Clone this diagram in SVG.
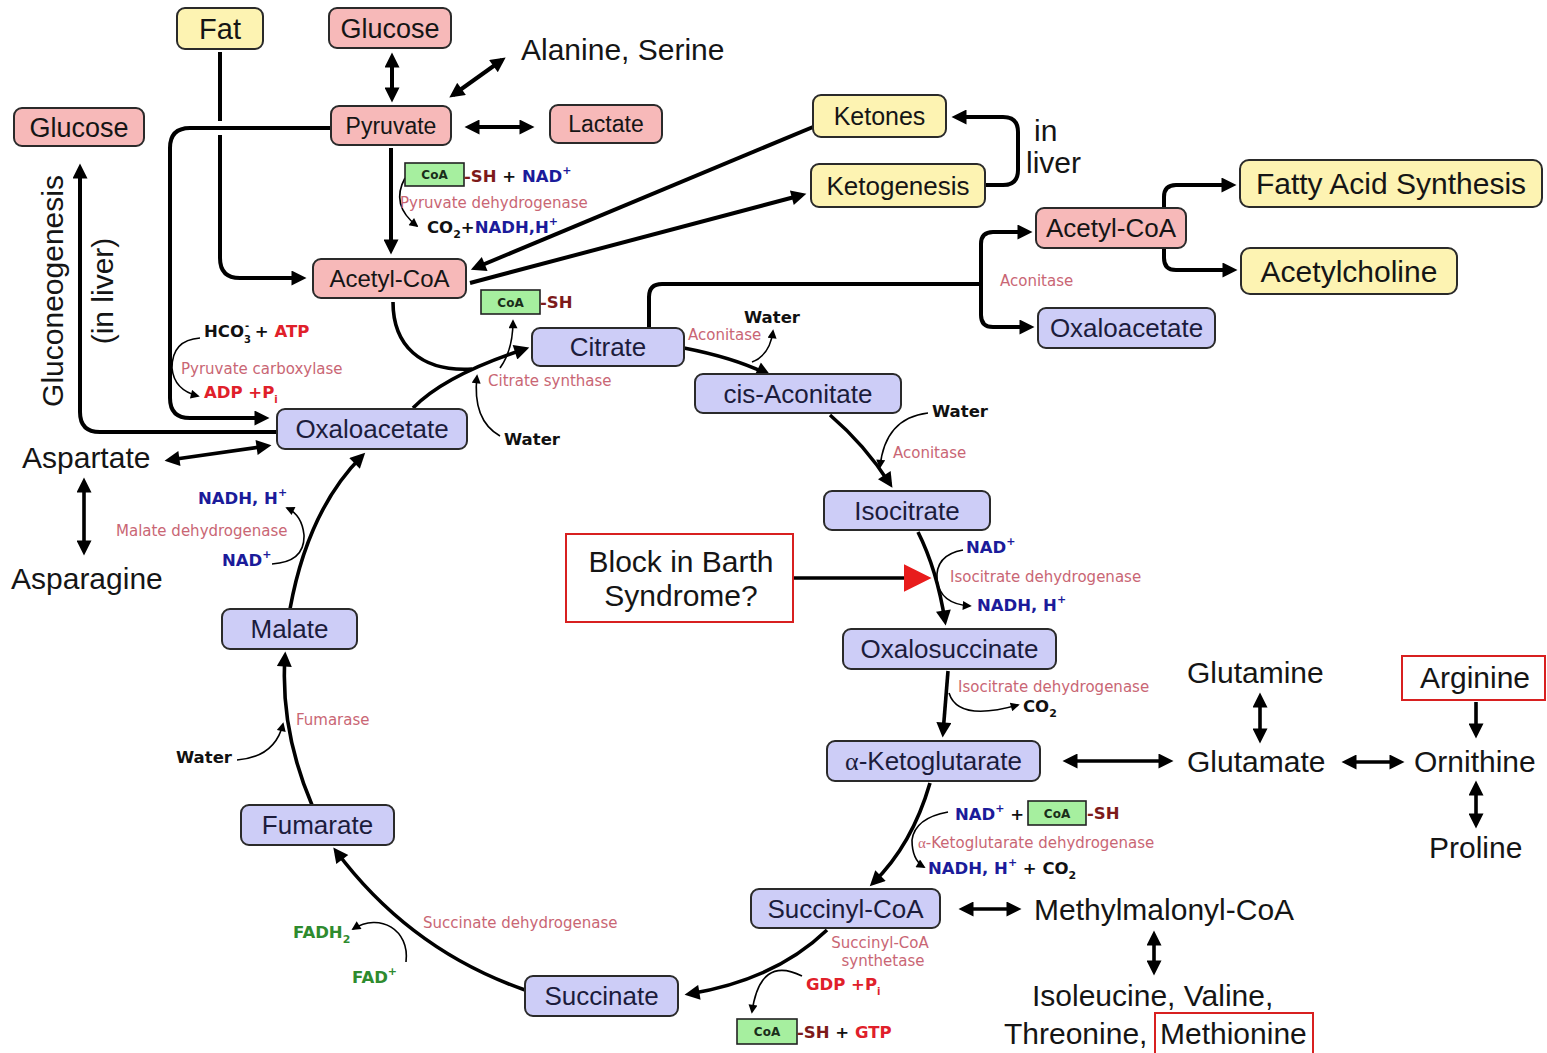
<svg xmlns="http://www.w3.org/2000/svg" width="1547" height="1053" viewBox="0 0 1547 1053">
<style>
.n rect{stroke:#2a2a2a;stroke-width:2}
.pk{fill:#f7b9b9}.yl{fill:#fdf3b2}.lv{fill:#cdcdf7}
.t{font-family:"Liberation Sans",Arial,sans-serif;fill:#151515;text-anchor:middle}
.tl{fill:#1c1c3c}
.p{font-family:"Liberation Sans",Arial,sans-serif;fill:#151515;font-size:30px}
.e{font-family:"DejaVu Sans",sans-serif;fill:#c96674;font-size:15px}
.b{font-family:"DejaVu Sans",sans-serif;font-weight:bold;font-size:16.5px;fill:#111}
.bl{fill:#1b1b9a}.rd{fill:#e0202a}.sh{fill:#7d1a1a}.gr{fill:#2e8b2e}
.coa rect{fill:#a6ef9f;stroke:#222;stroke-width:1.6}
.coa text{font-family:"DejaVu Sans",sans-serif;font-weight:bold;font-size:12px;fill:#1a2e1a;text-anchor:middle}
.c path{fill:none;stroke:#000}
.k{stroke-width:4}
.m{stroke-width:3.6}
.s{stroke-width:1.6}
</style>
<defs>
<marker id="ah" viewBox="0 0 10 10" refX="7" refY="5" markerWidth="17" markerHeight="15" markerUnits="userSpaceOnUse" orient="auto-start-reverse"><path d="M0,0 L10,5 L0,10 z" fill="#000"/></marker>
<marker id="as" viewBox="0 0 10 10" refX="8" refY="5" markerWidth="11" markerHeight="9" markerUnits="userSpaceOnUse" orient="auto-start-reverse"><path d="M0,0 L10,5 L0,10 z" fill="#000"/></marker>
<marker id="ar" viewBox="0 0 10 10" refX="3" refY="5" markerWidth="28" markerHeight="28" markerUnits="userSpaceOnUse" orient="auto"><path d="M0,0 L10,5 L0,10 z" fill="#e81c1c"/></marker>
</defs>
<rect width="1547" height="1053" fill="#fff"/>

<g id="connectors" class="c">
<path class="k" d="M220 52 L220 121"/>
<path class="k" d="M220 135 L220 258 Q220 278 240 278 L302 278" marker-end="url(#ah)"/>
<path class="k" d="M331 128 L190 128 Q170 128 170 148 L170 398 Q170 418 190 418 L265 418" marker-end="url(#ah)"/>
<path class="k" d="M277 432 L100 432 Q80 432 80 412 L80 168" marker-end="url(#ah)"/>
<path class="k" d="M392 57 L392 98" marker-start="url(#ah)" marker-end="url(#ah)"/>
<path class="k" d="M502 60 L453 95" marker-start="url(#ah)" marker-end="url(#ah)"/>
<path class="k" d="M469 127 L530 127" marker-start="url(#ah)" marker-end="url(#ah)"/>
<path class="k" d="M391 148 L391 250" marker-end="url(#ah)"/>
<path class="k" d="M813 127 L475 268" marker-end="url(#ah)"/>
<path class="k" d="M470 283 L802 195" marker-end="url(#ah)"/>
<path class="k" d="M986 185 L1003 185 Q1018 185 1018 170 L1018 132 Q1018 117 1003 117 L956 117" marker-end="url(#ah)"/>
<path class="k" d="M649 328 L649 297 Q649 284 662 284 L981 284"/>
<path class="k" d="M981 284 L981 244 Q981 232 993 232 L1028 232" marker-end="url(#ah)"/>
<path class="k" d="M981 284 L981 315 Q981 327 993 327 L1030 327" marker-end="url(#ah)"/>
<path class="k" d="M1164 208 L1164 197 Q1164 185 1176 185 L1232 185" marker-end="url(#ah)"/>
<path class="k" d="M1164 248 L1164 258 Q1164 270 1176 270 L1233 270" marker-end="url(#ah)"/>
<path class="m" d="M169 460 L267 446" marker-start="url(#ah)" marker-end="url(#ah)"/>
<path class="m" d="M84 482 L84 551" marker-start="url(#ah)" marker-end="url(#ah)"/>
<path class="m" d="M1067 761 L1169 761" marker-start="url(#ah)" marker-end="url(#ah)"/>
<path class="m" d="M1260 697 L1260 739" marker-start="url(#ah)" marker-end="url(#ah)"/>
<path class="m" d="M1346 762 L1400 762" marker-start="url(#ah)" marker-end="url(#ah)"/>
<path class="m" d="M1476 702 L1476 734" marker-end="url(#ah)"/>
<path class="m" d="M1476 785 L1476 824" marker-start="url(#ah)" marker-end="url(#ah)"/>
<path class="m" d="M963 909 L1017 909" marker-start="url(#ah)" marker-end="url(#ah)"/>
<path class="m" d="M1154 935 L1154 971" marker-start="url(#ah)" marker-end="url(#ah)"/>
<path d="M793 578 L912 578" stroke="#e81c1c" stroke-width="3.5" fill="none" marker-end="url(#ar)"/>
<!-- cycle -->
<path class="m" d="M413 408 Q445 375 525 349" marker-end="url(#ah)"/>
<path class="m" d="M393 302 C393 345 420 372 472 369"/>
<path class="m" d="M684 348 Q735 358 767 374" marker-end="url(#ah)"/>
<path class="m" d="M830 415 Q865 445 890 484" marker-end="url(#ah)"/>
<path class="m" d="M918 532 Q937 570 945 621" marker-end="url(#ah)"/>
<path class="m" d="M948 671 L943 733" marker-end="url(#ah)"/>
<path class="m" d="M930 783 Q912 845 873 883" marker-end="url(#ah)"/>
<path class="m" d="M827 930 Q775 980 689 994" marker-end="url(#ah)"/>
<path class="m" d="M525 990 Q410 950 336 851" marker-end="url(#ah)"/>
<path class="m" d="M312 805 Q280 730 285 656" marker-end="url(#ah)"/>
<path class="m" d="M290 609 Q308 510 362 456" marker-end="url(#ah)"/>
<!-- side reactions -->
<path class="s" d="M405 178 Q390 205 417 226" marker-end="url(#as)"/>
<path class="s" d="M500 368 Q513 350 513 321" marker-end="url(#as)"/>
<path class="s" d="M500 436 Q472 420 477 376" marker-end="url(#as)"/>
<path class="s" d="M752 362 Q770 355 773 331" marker-end="url(#as)"/>
<path class="s" d="M928 413 Q885 418 880 467" marker-end="url(#as)"/>
<path class="s" d="M963 550 Q935 555 937 580 Q940 604 970 606" marker-end="url(#as)"/>
<path class="s" d="M949 693 Q958 722 1018 705" marker-end="url(#as)"/>
<path class="s" d="M948 812 Q915 818 912 840 Q912 860 924 867" marker-end="url(#as)"/>
<path class="s" d="M802 976 Q760 955 752 1012" marker-end="url(#as)"/>
<path class="s" d="M406 962 C410 930 380 912 353 929" marker-end="url(#as)"/>
<path class="s" d="M237 760 Q275 757 283 724" marker-end="url(#as)"/>
<path class="s" d="M272 564 Q305 562 304 535 Q302 515 287 508" marker-end="url(#as)"/>
<path class="s" d="M200 338 Q172 340 172 368 Q174 390 198 396" marker-end="url(#as)"/>
</g>

<g id="n-fat" class="n"><rect class="yl" x="177" y="8" width="86" height="41" rx="8"/><text class="t" x="220" y="38.5" font-size="29">Fat</text></g>
<g id="n-glucose-top" class="n"><rect class="pk" x="329" y="8" width="122" height="40" rx="8"/><text class="t" x="390" y="37.5" font-size="27">Glucose</text></g>
<g id="n-glucose-left" class="n"><rect class="pk" x="14" y="108" width="130" height="38" rx="8"/><text class="t" x="79" y="136.5" font-size="27">Glucose</text></g>
<g id="n-pyruvate" class="n"><rect class="pk" x="331" y="106" width="120" height="39" rx="8"/><text class="t" x="391" y="133.5" font-size="23">Pyruvate</text></g>
<g id="n-lactate" class="n"><rect class="pk" x="550" y="105" width="112" height="38" rx="8"/><text class="t" x="606" y="132" font-size="23">Lactate</text></g>
<g id="n-acetylcoa-l" class="n"><rect class="pk" x="313" y="259" width="153" height="39" rx="8"/><text class="t" x="389.5" y="287" font-size="24">Acetyl-CoA</text></g>
<g id="n-ketones" class="n"><rect class="yl" x="813" y="95" width="133" height="42" rx="8"/><text class="t" x="879.5" y="125" font-size="25">Ketones</text></g>
<g id="n-ketogenesis" class="n"><rect class="yl" x="811" y="164" width="174" height="43" rx="8"/><text class="t" x="898" y="194.5" font-size="26">Ketogenesis</text></g>
<g id="n-acetylcoa-r" class="n"><rect class="pk" x="1036" y="208" width="150" height="40" rx="8"/><text class="t" x="1111" y="237" font-size="26">Acetyl-CoA</text></g>
<g id="n-fas" class="n"><rect class="yl" x="1240" y="160" width="302" height="47" rx="9"/><text class="t" x="1391" y="194" font-size="30">Fatty Acid Synthesis</text></g>
<g id="n-ach" class="n"><rect class="yl" x="1241" y="248" width="216" height="46" rx="9"/><text class="t" x="1349" y="281.5" font-size="30">Acetylcholine</text></g>
<g id="n-oaa-r" class="n"><rect class="lv" x="1038" y="308" width="177" height="40" rx="8"/><text class="t tl" x="1126.5" y="337" font-size="26">Oxaloacetate</text></g>
<g id="n-citrate" class="n"><rect class="lv" x="532" y="328" width="152" height="38" rx="8"/><text class="t tl" x="608" y="356" font-size="26">Citrate</text></g>
<g id="n-cisaconitate" class="n"><rect class="lv" x="695" y="374" width="206" height="39" rx="8"/><text class="t tl" x="798" y="402.5" font-size="26">cis-Aconitate</text></g>
<g id="n-isocitrate" class="n"><rect class="lv" x="824" y="491" width="166" height="39" rx="8"/><text class="t tl" x="907" y="519.5" font-size="26">Isocitrate</text></g>
<g id="n-oxalosuccinate" class="n"><rect class="lv" x="843" y="629" width="213" height="40" rx="8"/><text class="t tl" x="949.5" y="658" font-size="26">Oxalosuccinate</text></g>
<g id="n-akg" class="n"><rect class="lv" x="827" y="741" width="213" height="40" rx="8"/><text class="t tl" x="933.5" y="770" font-size="26"><tspan font-family="Liberation Serif,serif">α</tspan>-Ketoglutarate</text></g>
<g id="n-succinylcoa" class="n"><rect class="lv" x="751" y="889" width="189" height="39" rx="8"/><text class="t tl" x="845.5" y="917.5" font-size="26">Succinyl-CoA</text></g>
<g id="n-succinate" class="n"><rect class="lv" x="525" y="976" width="153" height="40" rx="8"/><text class="t tl" x="601.5" y="1005" font-size="26">Succinate</text></g>
<g id="n-fumarate" class="n"><rect class="lv" x="241" y="805" width="153" height="40" rx="8"/><text class="t tl" x="317.5" y="834" font-size="26">Fumarate</text></g>
<g id="n-malate" class="n"><rect class="lv" x="222" y="609" width="135" height="40" rx="8"/><text class="t tl" x="289.5" y="638" font-size="26">Malate</text></g>
<g id="n-oaa-l" class="n"><rect class="lv" x="277" y="409" width="190" height="40" rx="8"/><text class="t tl" x="372" y="438" font-size="26">Oxaloacetate</text></g>

<g id="n-alanine"><text class="p" x="521" y="60">Alanine, Serine</text></g>
<g id="n-aspartate"><text class="p" x="22" y="468">Aspartate</text></g>
<g id="n-asparagine"><text class="p" x="11" y="589">Asparagine</text></g>
<g id="n-glutamine"><text class="p" x="1187" y="683">Glutamine</text></g>
<g id="n-glutamate"><text class="p" x="1187" y="772">Glutamate</text></g>
<g id="n-ornithine"><text class="p" x="1414" y="772">Ornithine</text></g>
<g id="n-proline"><text class="p" x="1429" y="858">Proline</text></g>
<g id="n-arginine"><rect x="1402" y="656" width="143" height="44" fill="#fff" stroke="#d82020" stroke-width="2"/><text class="p" x="1475" y="688" text-anchor="middle">Arginine</text></g>
<g id="n-methylmalonyl"><text class="p" x="1034" y="920">Methylmalonyl-CoA</text></g>
<g id="n-aminoacids"><text class="p" x="1032" y="1006">Isoleucine, Valine,</text><text class="p" x="1004" y="1044">Threonine,</text><rect x="1155" y="1013" width="158" height="44" fill="none" stroke="#d82020" stroke-width="2"/><text class="p" x="1160" y="1044">Methionine</text></g>
<g id="n-barth"><rect x="566" y="534" width="227" height="88" fill="#fff" stroke="#d82020" stroke-width="2"/><text class="p" x="681" y="572" text-anchor="middle">Block in Barth</text><text class="p" x="681" y="606" text-anchor="middle">Syndrome?</text></g>
<g id="lbl-gluconeo"><text class="p" transform="translate(63,291) rotate(-90)" text-anchor="middle" font-size="28">Gluconeogenesis</text><text class="p" transform="translate(113,291) rotate(-90)" text-anchor="middle" font-size="28">(in liver)</text></g>
<g id="lbl-inliver"><text class="p" font-size="21" x="1034" y="141">in</text><text class="p" font-size="21" x="1026" y="173">liver</text></g>

<g id="labels">
<g class="coa"><rect x="405" y="163" width="59" height="23"/><text x="434.5" y="179">CoA</text></g>
<text class="b" x="464" y="182"><tspan class="sh">-SH</tspan> + <tspan class="bl">NAD</tspan><tspan class="bl" font-size="11" dy="-8">+</tspan></text>
<text class="e" x="400" y="208">Pyruvate dehydrogenase</text>
<text class="b" x="427" y="233">CO<tspan font-size="11" dy="5">2</tspan><tspan dy="-5">+</tspan><tspan class="bl">NADH,H</tspan><tspan class="bl" font-size="11" dy="-8">+</tspan></text>

<g class="coa"><rect x="481" y="290" width="59" height="24"/><text x="510.5" y="306.5">CoA</text></g>
<text class="b" x="540" y="308"><tspan class="sh">-SH</tspan></text>

<text class="b" x="204" y="337" font-size="15">HCO<tspan font-size="10" dy="6">3</tspan><tspan font-size="10" dx="-6" dy="-14">-</tspan><tspan dy="8"> + </tspan><tspan class="rd">ATP</tspan></text>
<text class="e" x="181" y="374">Pyruvate carboxylase</text>
<text class="b rd" x="204" y="398">ADP +P<tspan font-size="10" dy="5">i</tspan></text>

<text class="e" x="488" y="386">Citrate synthase</text>
<text class="b" x="504" y="445">Water</text>
<text class="e" x="688" y="340">Aconitase</text>
<text class="b" x="744" y="323">Water</text>
<text class="e" x="1000" y="286" font-size="14">Aconitase</text>
<text class="b" x="932" y="417">Water</text>
<text class="e" x="893" y="458">Aconitase</text>

<text class="b bl" x="966" y="553">NAD<tspan font-size="11" dy="-8">+</tspan></text>
<text class="e" x="950" y="582">Isocitrate dehydrogenase</text>
<text class="b bl" x="977" y="611">NADH, H<tspan font-size="11" dy="-8">+</tspan></text>

<text class="e" x="958" y="692">Isocitrate dehydrogenase</text>
<text class="b" x="1023" y="712">CO<tspan font-size="11" dy="5">2</tspan></text>

<text class="b" x="955" y="820"><tspan class="bl">NAD</tspan><tspan class="bl" font-size="11" dy="-8">+</tspan><tspan dy="8"> +</tspan></text>
<g class="coa"><rect x="1028" y="801" width="58" height="24"/><text x="1057" y="817.5">CoA</text></g>
<text class="b" x="1087" y="819"><tspan class="sh">-SH</tspan></text>
<text class="e" x="918" y="848"><tspan font-family="Liberation Serif,serif">α</tspan>-Ketoglutarate dehydrogenase</text>
<text class="b" x="928" y="874"><tspan class="bl">NADH, H</tspan><tspan class="bl" font-size="11" dy="-8">+</tspan><tspan dy="8"> + CO</tspan><tspan font-size="11" dy="5">2</tspan></text>

<text class="e" x="880" y="948" text-anchor="middle">Succinyl-CoA</text>
<text class="e" x="883" y="966" text-anchor="middle">synthetase</text>
<text class="b rd" x="806" y="990">GDP +P<tspan font-size="10" dy="5">i</tspan></text>
<g class="coa"><rect x="737" y="1019" width="60" height="25"/><text x="767" y="1036">CoA</text></g>
<text class="b" x="797" y="1038"><tspan class="sh">-SH</tspan> + <tspan class="rd">GTP</tspan></text>

<text class="e" x="423" y="928">Succinate dehydrogenase</text>
<text class="b gr" x="293" y="938">FADH<tspan font-size="11" dy="5">2</tspan></text>
<text class="b gr" x="352" y="983">FAD<tspan font-size="11" dy="-8">+</tspan></text>

<text class="e" x="296" y="725">Fumarase</text>
<text class="b" x="176" y="763">Water</text>

<text class="b bl" x="198" y="504">NADH, H<tspan font-size="11" dy="-8">+</tspan></text>
<text class="e" x="116" y="536">Malate dehydrogenase</text>
<text class="b bl" x="222" y="566">NAD<tspan font-size="11" dy="-8">+</tspan></text>
</g>
</svg>
